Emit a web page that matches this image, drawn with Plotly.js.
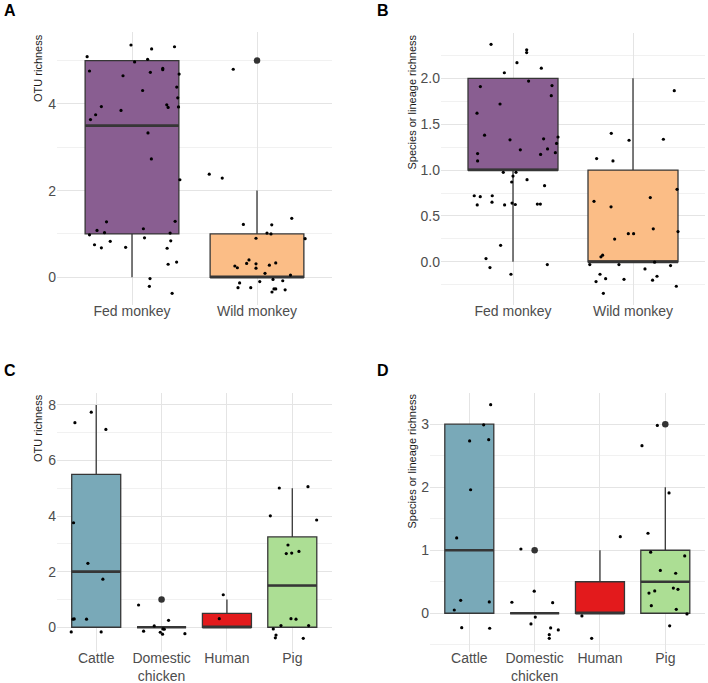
<!DOCTYPE html>
<html>
<head>
<meta charset="utf-8">
<script src="https://cdn.plot.ly/plotly-3.0.1.min.js"></script>
<style>html,body{margin:0;padding:0;background:#fff;}#chart{width:708px;height:683px;}</style>
</head>
<body>
<div id="chart"></div>
<script>
// ---------- Panel A: OTU richness, monkeys ----------
const catsA = ['Fed monkey', 'Wild monkey'];
const colorsA = ['rgb(137,94,145)', 'rgb(251,189,134)'];
const q1A = [1, 0], medA = [3.5, 0], q3A = [5, 1], loA = [0, 0], hiA = [5, 2];
const outCatA = [2], outValA = [5];
const ptCatA = [1,1,1,1,1,1,1,1,1,1,1,1,1,1,1,1,1,1,1,1,1,1,1,1,1,1,1,1,1,1,1,1,1,1,1,1,1,1,1,1,1,1,1,1,
                2,2,2,2,2,2,2,2,2,2,2,2,2,2,2,2,2,2,2,2,2,2,2,2,2,2,2,2,2,2];
const jitA = [-0.008,0.157,0.34,-0.359,0.021,0.125,-0.34,-0.072,0.147,0.246,0.246,0.377,0.358,0.085,0.366,-0.245,-0.088,0.278,0.289,0.372,-0.291,-0.332,0.128,0.155,0.383,-0.204,0.345,-0.28,0.091,-0.34,-0.22,0.305,0.10,-0.174,0.31,-0.30,-0.245,-0.051,0.281,0.289,0.357,0.144,0.139,0.321,
              -0.19,-0.382,-0.278,0.278,-0.109,0.118,0.08,0.112,-0.008,0.385,-0.177,-0.157,-0.083,-0.064,-0.008,-0.008,0.099,0.15,0.064,0.268,0.128,0.206,0.022,-0.139,-0.05,-0.152,0.136,0.15,0.225,0.12];
const valA = [5.36,5.27,5.32,5.09,4.97,5.03,4.76,4.65,4.73,4.82,4.79,4.69,4.39,4.31,4.14,3.94,3.85,3.98,3.92,3.93,3.75,3.64,3.33,2.73,2.25,1.28,1.29,1.08,1.12,0.98,1.03,1.02,0.91,0.83,0.84,0.75,0.68,0.69,0.67,0.30,0.35,-0.03,-0.21,-0.37,
              4.80,2.38,2.29,1.36,1.22,1.21,1.02,1.00,0.90,0.89,0.26,0.22,0.32,0.40,0.31,0.21,0.28,0.33,0.09,0.05,-0.05,-0.08,-0.10,-0.13,-0.24,-0.24,-0.27,-0.27,-0.29,-0.34];

// ---------- Panel B: species/lineage richness, monkeys ----------
const catsB = ['Fed monkey', 'Wild monkey'];
const colorsB = ['rgb(137,94,145)', 'rgb(251,189,134)'];
const q1B = [1, 0], medB = [1, 0], q3B = [2, 1], loB = [0, 0], hiB = [2, 2];
const outCatB = [], outValB = [];
const ptCatB = [1,1,1,1,1,1,1,1,1,1,1,1,1,1,1,1,1,1,1,1,1,1,1,1,1,1,1,1,1,1,1,1,1,1,1,1,1,1,1,1,1,1,1,1,
                2,2,2,2,2,2,2,2,2,2,2,2,2,2,2,2,2,2,2,2,2,2,2,2,2,2,2,2,2,2];
const jitB = [-0.183,0.114,0.114,0.033,-0.072,0.236,-0.272,0.13,0.325,0.319,-0.108,-0.30,-0.237,-0.025,0.255,0.375,0.363,0.288,0.061,0.353,0.23,-0.295,-0.295,-0.081,0.025,0.0,-0.011,0.117,0.263,-0.323,-0.273,-0.173,-0.298,-0.175,-0.07,-0.008,0.019,0.203,0.228,-0.103,-0.225,-0.192,0.286,-0.017,
              0.344,-0.181,-0.033,0.253,-0.303,-0.167,0.367,-0.325,-0.183,0.144,0.169,0.375,-0.039,0.005,-0.153,-0.253,-0.267,-0.36,-0.117,0.18,0.1,0.313,-0.275,-0.228,-0.308,-0.075,0.2,0.163,0.361,-0.247];
const valB = [2.37,2.31,2.28,2.17,2.06,2.11,1.91,1.97,1.92,1.81,1.72,1.62,1.38,1.33,1.34,1.36,1.29,1.23,1.22,1.19,1.17,1.18,1.10,0.975,0.975,0.935,0.87,0.895,0.83,0.72,0.71,0.72,0.62,0.65,0.62,0.64,0.625,0.63,0.63,0.18,0.036,-0.062,-0.03,-0.135,
              1.865,1.40,1.325,1.336,1.125,1.10,0.79,0.66,0.60,0.70,0.36,0.33,0.307,0.307,0.248,0.073,0.055,-0.03,-0.03,-0.003,-0.077,-0.04,-0.135,-0.183,-0.215,-0.19,-0.157,-0.2,-0.266,-0.343];

// ---------- Panel C: OTU richness, domestic hosts ----------
const catsC = ['Cattle', 'Domestic<br>chicken', 'Human', 'Pig'];
const colorsC = ['rgb(121,169,184)', 'rgb(255,255,255)', 'rgb(227,26,28)', 'rgb(172,222,148)'];
const q1C = [0, 0, 0, 0], medC = [2, 0, 0, 1.5], q3C = [5.5, 0, 0.5, 3.25], loC = [0, 0, 0, 0], hiC = [8, 0, 1, 5];
const outCatC = [2], outValC = [1];
const ptCatC = [1,1,1,1,1,1,1,1,1,1,1, 2,2,2,2,2,2,2,2,2, 3,3, 4,4,4,4,4,4,4,4,4,4,4,4,4,4,4,4];
const jitC = [-0.076,-0.326,0.148,-0.347,-0.127,0.102,-0.356,-0.336,-0.148,-0.382,0.076,
              -0.352,0.107,-0.112,-0.275,0.02,0.041,-0.02,0.015,0.357,
              -0.056,-0.117,
              -0.199,0.24,-0.336,0.373,-0.066,-0.092,-0.009,0.102,-0.02,0.057,-0.173,0.25,-0.291,-0.249,-0.259,0.168];
const valC = [7.74,7.36,7.12,3.76,2.30,1.73,0.29,0.30,0.29,-0.17,-0.17,
              0.80,0.25,0.047,-0.14,-0.06,-0.07,-0.18,-0.25,-0.23,
              1.17,0.31,
              5.01,5.06,4.01,3.86,2.96,2.65,2.67,2.73,0.31,0.29,0.06,0.06,-0.06,-0.28,-0.38,-0.40];

// ---------- Panel D: species/lineage richness, domestic hosts ----------
const catsD = ['Cattle', 'Domestic<br>chicken', 'Human', 'Pig'];
const colorsD = ['rgb(121,169,184)', 'rgb(255,255,255)', 'rgb(227,26,28)', 'rgb(172,222,148)'];
const q1D = [0, 0, 0, 0], medD = [1, 0, 0, 0.5], q3D = [3, 0, 0.5, 1], loD = [0, 0, 0, 0], hiD = [3, 0, 1, 2];
const outCatD = [2, 4], outValD = [1, 3];
const ptCatD = [1,1,1,1,1,1,1,1,1,1,1, 2,2,2,2,2,2,2,2,2,2, 3,3,3, 4,4,4,4,4,4,4,4,4,4,4,4,4,4,4,4];
const jitD = [0.327,0.22,0.005,0.297,0.02,-0.193,-0.132,0.306,-0.23,-0.116,0.312,
              -0.21,-0.006,-0.348,0.276,0.01,-0.056,0.245,0.362,0.224,0.224,
              0.311,-0.276,-0.127,
              -0.122,-0.357,0.057,-0.265,-0.224,0.297,-0.076,0.159,-0.162,-0.25,0.123,0.194,-0.214,0.168,0.332,0.067];
const valD = [3.31,2.99,2.735,2.755,1.96,1.195,0.206,0.18,0.052,-0.228,-0.238,
              1.02,0.35,0.175,0.168,-0.06,-0.17,-0.233,-0.265,-0.34,-0.397,
              1.216,-0.043,-0.397,
              2.98,2.66,1.91,1.27,0.97,0.91,0.68,0.635,0.354,0.32,0.40,0.38,0.12,0.063,-0.01,-0.20];

// ---------- styling ----------
const FONT = 'Liberation Sans, Arial, Helvetica, sans-serif';
const BOXW = 0.75;
const LINE = '#363636';
const traces = [];

function addPanel(ax, cats, colors, q1, med, q3, lo, hi, outCat, outVal, ptCat, jit, val) {
  const xa = 'x' + ax, ya = 'y' + ax;
  cats.forEach((c, i) => {
    traces.push({
      type: 'box', xaxis: xa, yaxis: ya,
      x: [i + 1], q1: [q1[i]], median: [med[i]], q3: [q3[i]],
      lowerfence: [lo[i]], upperfence: [hi[i]],
      width: BOXW, whiskerwidth: 0, boxpoints: false,
      fillcolor: colors[i], line: { color: LINE, width: 1.3 },
      hoverinfo: 'skip', showlegend: false
    });
  });
  cats.forEach((c, i) => {
    traces.push({
      type: 'scatter', mode: 'lines', xaxis: xa, yaxis: ya,
      x: [i + 1 - BOXW / 2, i + 1 + BOXW / 2], y: [med[i], med[i]],
      line: { color: LINE, width: 2.6 }, hoverinfo: 'skip', showlegend: false
    });
  });
  if (outCat.length) {
    traces.push({
      type: 'scatter', mode: 'markers', xaxis: xa, yaxis: ya,
      x: outCat, y: outVal,
      marker: { color: '#333333', size: 6.5 }, hoverinfo: 'skip', showlegend: false
    });
  }
  traces.push({
    type: 'scatter', mode: 'markers', xaxis: xa, yaxis: ya,
    x: ptCat.map((c, k) => c + jit[k]), y: val,
    marker: { color: '#000000', size: 3.2 }, hoverinfo: 'skip', showlegend: false
  });
}

addPanel('', catsA, colorsA, q1A, medA, q3A, loA, hiA, outCatA, outValA, ptCatA, jitA, valA);
addPanel('2', catsB, colorsB, q1B, medB, q3B, loB, hiB, outCatB, outValB, ptCatB, jitB, valB);
addPanel('3', catsC, colorsC, q1C, medC, q3C, loC, hiC, outCatC, outValC, ptCatC, jitC, valC);
addPanel('4', catsD, colorsD, q1D, medD, q3D, loD, hiD, outCatD, outValD, ptCatD, jitD, valD);

const GRID = '#E4E4E4', MINOR = '#F1F1F1';
function xAxis(dom, cats, anchor) {
  return {
    domain: dom, anchor: anchor, range: [0.4, cats.length + 0.6],
    tickmode: 'array', tickvals: cats.map((c, i) => i + 1), ticktext: cats,
    showgrid: true, gridcolor: GRID, gridwidth: 1, zeroline: false, showline: false,
    ticks: '', ticklabelstandoff: -4,
    tickfont: { family: FONT, size: 14, color: '#4D4D4D' }, automargin: false, fixedrange: true
  };
}
function yAxis(dom, range, dtick, mdtick, fmt, anchor) {
  return {
    domain: dom, anchor: anchor, range: range, tick0: 0, dtick: dtick, tickformat: fmt,
    showgrid: true, gridcolor: GRID, gridwidth: 1, zeroline: false, showline: false,
    minor: { tick0: 0, dtick: mdtick, showgrid: true, gridcolor: MINOR, gridwidth: 1 },
    ticks: '', tickfont: { family: FONT, size: 14, color: '#4D4D4D' }, automargin: false, fixedrange: true
  };
}
const W = 708, H = 683;
const px = v => v / W, py = v => 1 - v / H;

function yTitle(text, xc, ytop) {
  return { text: text, xref: 'paper', yref: 'paper', x: px(xc), y: py(ytop), xanchor: 'center', yanchor: 'top',
           textangle: -90, showarrow: false, font: { family: FONT, size: 11, color: '#1A1A1A' } };
}
function letter(text, xl, yc) {
  return { text: '<b>' + text + '</b>', xref: 'paper', yref: 'paper', x: px(xl), y: py(yc), xanchor: 'left', yanchor: 'middle',
           showarrow: false, font: { family: FONT, size: 16, color: '#000000' } };
}

const layout = {
  width: W, height: H, margin: { l: 0, r: 0, t: 0, b: 0 },
  paper_bgcolor: '#FFFFFF', plot_bgcolor: '#FFFFFF', showlegend: false, boxmode: 'overlay',
  font: { family: FONT },
  xaxis: xAxis([px(57), px(332)], catsA, 'y'),
  yaxis: yAxis([py(305), py(32)], [-0.64, 5.66], 2, 1, '', 'x'),
  xaxis2: xAxis([px(441), px(705)], catsB, 'y2'),
  yaxis2: yAxis([py(305), py(33.3)], [-0.47, 2.49], 0.5, 0.25, '.1f', 'x2'),
  xaxis3: xAxis([px(57), px(331.5)], catsC, 'y3'),
  yaxis3: yAxis([py(651.7), py(392.7)], [-0.88, 8.44], 2, 1, '', 'x3'),
  xaxis4: xAxis([px(430.1), px(704.5)], catsD, 'y4'),
  yaxis4: yAxis([py(651.7), py(392.7)], [-0.61, 3.50], 1, 0.5, '', 'x4'),
  annotations: [
    yTitle('OTU richness', 38, 32),
    yTitle('Species or lineage richness', 411, 33),
    yTitle('OTU richness', 38, 392),
    yTitle('Species or lineage richness', 411, 392),
    letter('A', 2, 10.5),
    letter('B', 375.5, 10.5),
    letter('C', 2, 370.5),
    letter('D', 375.5, 370.5)
  ]
};

Plotly.newPlot('chart', traces, layout, { staticPlot: true, displayModeBar: false });
</script>
</body>
</html>
